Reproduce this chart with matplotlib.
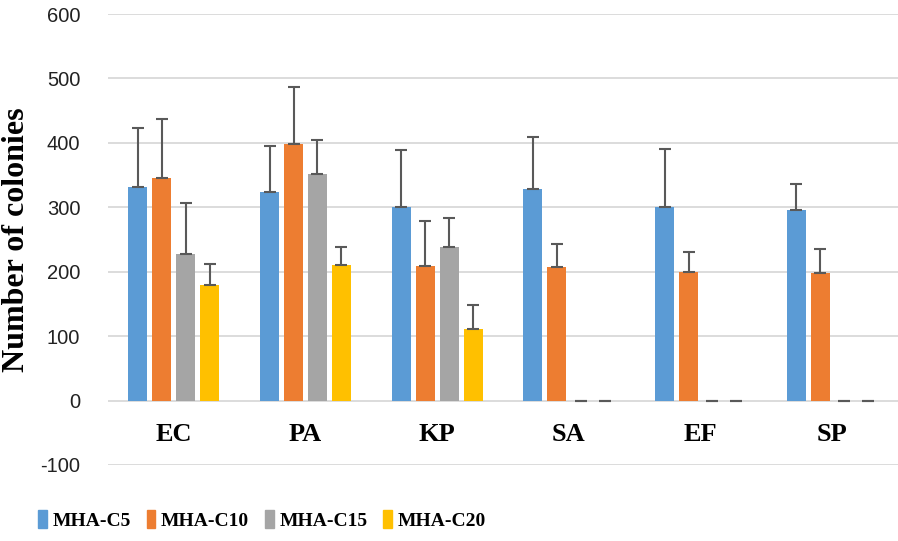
import matplotlib
matplotlib.use('Agg')
import matplotlib.pyplot as plt
from matplotlib.patches import Patch
import numpy as np

plt.rcParams['axes.unicode_minus'] = False

# bacteria groups and series
categories = ['EC', 'PA', 'KP', 'SA', 'EF', 'SP']
series = ['MHA-C5', 'MHA-C10', 'MHA-C15', 'MHA-C20']
colors = ['#5B9BD5', '#ED7D31', '#A5A5A5', '#FFC000']

# mean colony counts
c5 = [332, 323, 300, 329, 301, 296]
c10 = [345, 398, 209, 208, 200, 198]
c15 = [228, 352, 238, 0, 0, 0]
c20 = [179, 210, 111, 0, 0, 0]

# upper error (sd)
c5_err = [91, 72, 89, 80, 90, 40]
c10_err = [92, 88, 69, 35, 30, 37]
c15_err = [79, 53, 46, 0, 0, 0]
c20_err = [33, 29, 38, 0, 0, 0]

means = [c5, c10, c15, c20]
errs = [c5_err, c10_err, c15_err, c20_err]

fig = plt.figure(figsize=(8.98, 5.41), dpi=100)
ax = fig.add_axes([108/898, 1-465/541, 1-108/898, (465-14)/541])

x = np.arange(len(categories))
step = 0.182
width = 0.144
for i in range(4):
    pos = x + (i - 1.5)*step
    ax.bar(pos, means[i], width, color=colors[i], zorder=2)
    ax.errorbar(pos, means[i], yerr=[np.zeros(len(x)), errs[i]], fmt='none',
                ecolor='#595959', elinewidth=1.5, capsize=4.5, capthick=1.5, zorder=3)

ax.set_xlim(-0.5, 5.5)
ax.set_ylim(-100, 600)
ax.set_yticks(range(-100, 601, 100))
ax.yaxis.grid(True, color='#d9d9d9', lw=1.3, zorder=0)
ax.set_axisbelow(True)
for s in ax.spines.values():
    s.set_visible(False)
ax.tick_params(axis='y', length=0, pad=20, labelsize=14.5, labelcolor='#222222')
for lab in ax.get_yticklabels():
    lab.set_family('Liberation Sans')
ax.set_xticks([])

for xi, c in zip(x, categories):
    ax.text(xi, -53, c, ha='center', va='center', fontsize=19, fontweight='bold',
            family='Liberation Serif')

fig.text(17/898, 1-240/541, 'Number of colonies', rotation=90, ha='center', va='center',
         fontsize=23, fontweight='bold', family='Liberation Serif')

handles = [Patch(color=c) for c in colors]
fig.legend(handles, series, loc='center left', bbox_to_anchor=(38/898, 1-520/541),
           ncol=4, frameon=False, handlelength=0.45, handleheight=1.0, handletextpad=0.3,
           columnspacing=0.8, borderpad=0, borderaxespad=0,
           prop={'family': 'Liberation Serif', 'weight': 'bold', 'size': 14})

fig.savefig('out.png', dpi=100)
